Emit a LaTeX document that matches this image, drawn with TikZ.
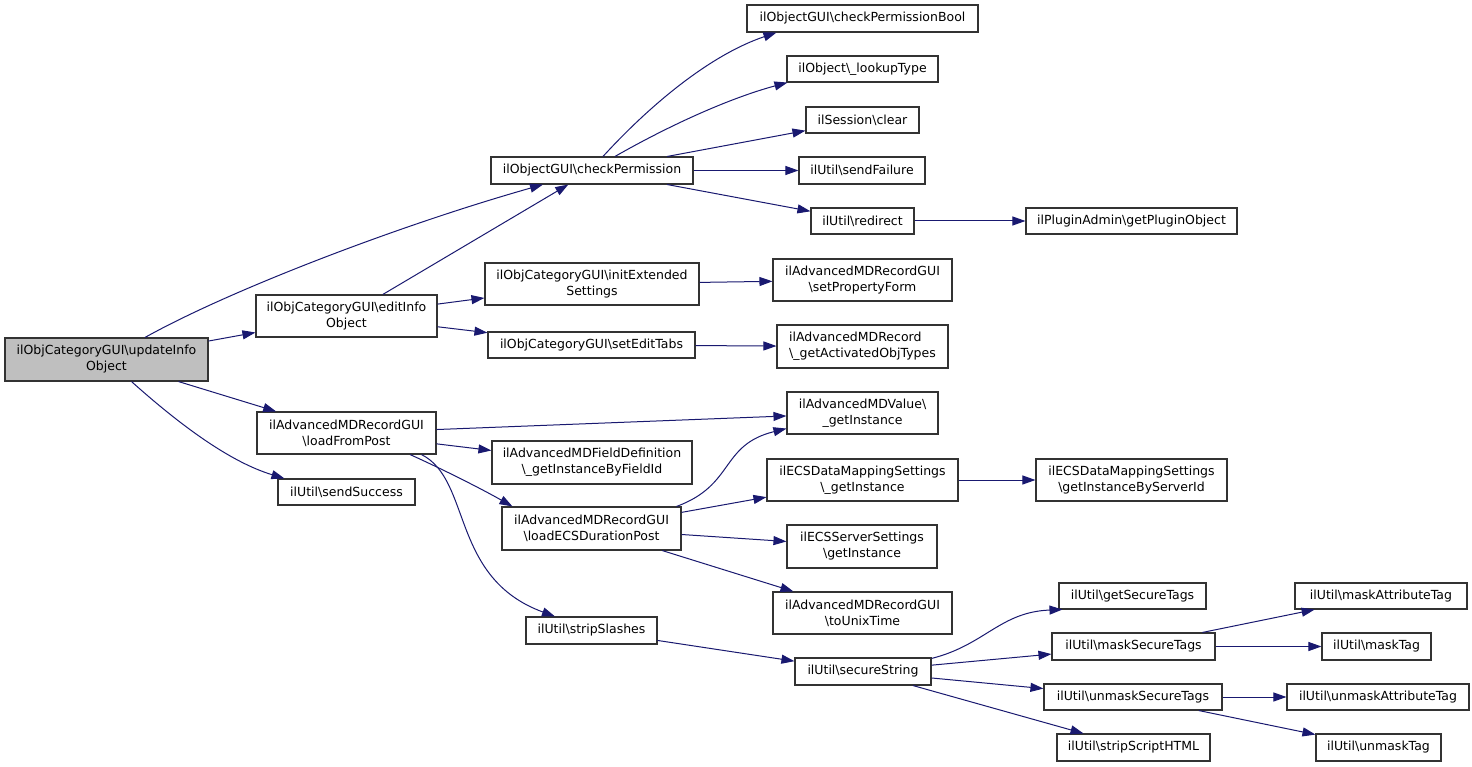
\documentclass[tikz,border=0pt]{standalone}
\usepackage{fontspec}
\setmainfont{DejaVu Sans}
\usetikzlibrary{arrows.meta}
\definecolor{edgec}{HTML}{191970}
\definecolor{rootfill}{HTML}{BFBFBF}
\definecolor{boxline}{HTML}{333333}
\newcommand{\bs}{\textbackslash}
\tikzset{
  box/.style={draw=boxline, line width=1.1pt, fill=white, inner sep=0pt, align=center,
    font=\fontsize{12.5}{16}\selectfont},
  rootbox/.style={box, fill=rootfill},
  edge/.style={draw=edgec, line width=1pt, -{Triangle[length=13pt,width=9pt]}},
}
\begin{document}
\begin{tikzpicture}[x=1pt,y=-1pt]
\useasboundingbox[fill=white] (0,0) rectangle (1472,767);

% nodes
\node[rootbox, minimum width=203pt, minimum height=43pt] (upd) at (106.5,359.5) {ilObjCategoryGUI\bs updateInfo\\Object};
\node[box, minimum width=202pt, minimum height=27pt] (chk) at (592,170.5) {ilObjectGUI\bs checkPermission};
\node[box, minimum width=181pt, minimum height=42pt] (edit) at (346.5,316) {ilObjCategoryGUI\bs editInfo\\Object};
\node[box, minimum width=179pt, minimum height=42pt] (lfp) at (346.5,433) {ilAdvancedMDRecordGUI\\\bs loadFromPost};
\node[box, minimum width=137pt, minimum height=26pt] (succ) at (346.5,492) {ilUtil\bs sendSuccess};
\node[box, minimum width=231pt, minimum height=27pt] (cpb) at (862.5,18.5) {ilObjectGUI\bs checkPermissionBool};
\node[box, minimum width=151pt, minimum height=26pt] (look) at (862.5,69) {ilObject\bs\_lookupType};
\node[box, minimum width=113pt, minimum height=26pt] (clr) at (862.5,120) {ilSession\bs clear};
\node[box, minimum width=126pt, minimum height=27pt] (fail) at (862,170.5) {ilUtil\bs sendFailure};
\node[box, minimum width=103pt, minimum height=26pt] (redir) at (862.5,221) {ilUtil\bs redirect};
\node[box, minimum width=211pt, minimum height=26pt] (plug) at (1131.5,221) {ilPluginAdmin\bs getPluginObject};
\node[box, minimum width=214pt, minimum height=42pt] (init) at (592,284) {ilObjCategoryGUI\bs initExtended\\Settings};
\node[box, minimum width=207pt, minimum height=26pt] (tabs) at (591.5,345) {ilObjCategoryGUI\bs setEditTabs};
\node[box, minimum width=179pt, minimum height=42pt] (prop) at (862.5,280) {ilAdvancedMDRecordGUI\\\bs setPropertyForm};
\node[box, align=left, minimum width=171pt, minimum height=43pt] (act) at (862.5,346.5) {ilAdvancedMDRecord\\\bs\_getActivatedObjTypes};
\node[box, minimum width=151pt, minimum height=42pt] (val) at (862.5,413) {ilAdvancedMDValue\bs\\\_getInstance};
\node[box, minimum width=200pt, minimum height=43pt] (fdef) at (592,462.5) {ilAdvancedMDFieldDefinition\\\bs\_getInstanceByFieldId};
\node[box, minimum width=179pt, minimum height=43pt] (ecsd) at (591.5,528.5) {ilAdvancedMDRecordGUI\\\bs loadECSDurationPost};
\node[box, minimum width=191pt, minimum height=42pt] (dmap) at (862.5,480) {ilECSDataMappingSettings\\\bs\_getInstance};
\node[box, minimum width=191pt, minimum height=42pt] (srvid) at (1131.5,480) {ilECSDataMappingSettings\\\bs getInstanceByServerId};
\node[box, minimum width=150pt, minimum height=43pt] (srv) at (862,546.5) {ilECSServerSettings\\\bs getInstance};
\node[box, minimum width=179pt, minimum height=42pt] (unix) at (862.5,613) {ilAdvancedMDRecordGUI\\\bs toUnixTime};
\node[box, minimum width=131pt, minimum height=27pt] (strip) at (591.5,630.5) {ilUtil\bs stripSlashes};
\node[box, minimum width=136pt, minimum height=27pt] (sec) at (863,671.5) {ilUtil\bs secureString};
\node[box, minimum width=147pt, minimum height=26pt] (gst) at (1132.5,596) {ilUtil\bs getSecureTags};
\node[box, minimum width=163pt, minimum height=27pt] (mst) at (1133.5,646.5) {ilUtil\bs maskSecureTags};
\node[box, minimum width=178pt, minimum height=26pt] (ust) at (1133,697) {ilUtil\bs unmaskSecureTags};
\node[box, minimum width=153pt, minimum height=27pt] (ssh) at (1133.5,747.5) {ilUtil\bs stripScriptHTML};
\node[box, minimum width=172pt, minimum height=26pt] (mat) at (1381,596) {ilUtil\bs maskAttributeTag};
\node[box, minimum width=109pt, minimum height=27pt] (mtag) at (1376.5,646.5) {ilUtil\bs maskTag};
\node[box, minimum width=182pt, minimum height=26pt] (uat) at (1378,697) {ilUtil\bs unmaskAttributeTag};
\node[box, minimum width=125pt, minimum height=27pt] (utag) at (1378.5,747.5) {ilUtil\bs unmaskTag};

% edges
\draw[edge] ([xshift=38.5pt]upd.north) .. controls (230,290) and (400,225) .. ([xshift=-49pt]chk.south);
\draw[edge] (upd) -- (edit);
\draw[edge] (upd) -- (lfp);
\draw[edge] ([xshift=25pt]upd.south) .. controls (180,425) and (230,462) .. ([xshift=7pt]succ.north west);
\draw[edge] (edit) -- (chk);
\draw[edge] (edit) -- (init);
\draw[edge] (edit) -- (tabs);
\draw[edge] ([xshift=11pt]chk.north) .. controls (650,105) and (710,55) .. ([xshift=30pt]cpb.south west);
\draw[edge] ([xshift=23pt]chk.north) .. controls (670,125) and (730,98) .. ([xshift=1pt]look.south west);
\draw[edge] (chk) -- (clr);
\draw[edge] (chk) -- (fail);
\draw[edge] (chk) -- (redir);
\draw[edge] (redir) -- (plug);
\draw[edge] (init) -- (prop);
\draw[edge] (tabs) -- (act);
\draw[edge] (lfp) -- (val);
\draw[edge] (lfp) -- (fdef);
\draw[edge] ([xshift=63.5pt]lfp.south) .. controls (440,468) and (480,488) .. ([xshift=11pt]ecsd.north west);
\draw[edge] ([xshift=75pt]lfp.south) .. controls (472,480) and (450,578) .. ([xshift=-36.5pt]strip.north);
\draw[edge] ([xshift=85pt]ecsd.north) .. controls (735,485) and (720,445) .. ([yshift=6pt]val.south west);
\draw[edge] (ecsd) -- (dmap);
\draw[edge] (ecsd) -- (srv);
\draw[edge] (ecsd) -- (unix);
\draw[edge] (dmap) -- (srvid);
\draw[edge] (strip) -- (sec);
\draw[edge] ([yshift=-1pt]sec.north east) .. controls (985,645) and (1000,612) .. ([xshift=4pt]gst.south west);
\draw[edge] (sec) -- (mst);
\draw[edge] (sec) -- (ust);
\draw[edge] (sec) -- (ssh);
\draw[edge] (mst) -- (mat);
\draw[edge] (mst) -- (mtag);
\draw[edge] (ust) -- (uat);
\draw[edge] (ust) -- (utag);
\end{tikzpicture}
\end{document}
